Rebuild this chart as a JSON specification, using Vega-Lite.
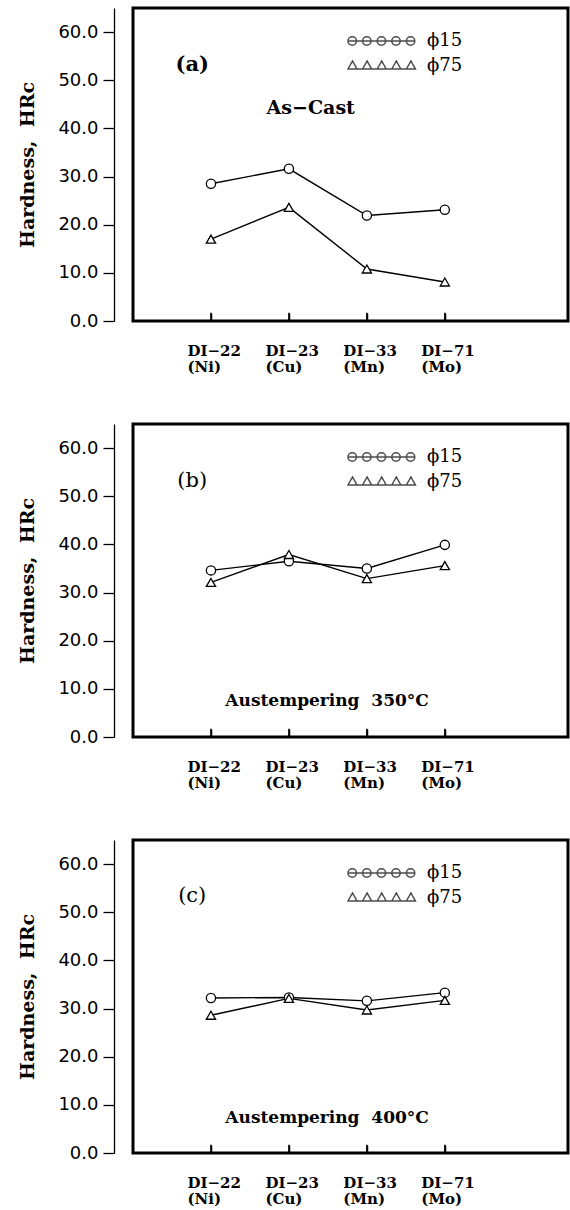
{
  "$schema": "https://vega.github.io/schema/vega-lite/v6.json",
  "padding": {"left": 17, "top": 6, "right": 0, "bottom": 0},
  "background": "white",
  "spacing": 46,
  "datasets": {
    "hrc": [
      {"panel": "a", "i": 1, "size": "ϕ15", "hrc": 28.5},
      {"panel": "a", "i": 2, "size": "ϕ15", "hrc": 31.6},
      {"panel": "a", "i": 3, "size": "ϕ15", "hrc": 21.9},
      {"panel": "a", "i": 4, "size": "ϕ15", "hrc": 23.1},
      {"panel": "a", "i": 1, "size": "ϕ75", "hrc": 17.0},
      {"panel": "a", "i": 2, "size": "ϕ75", "hrc": 23.6},
      {"panel": "a", "i": 3, "size": "ϕ75", "hrc": 10.8},
      {"panel": "a", "i": 4, "size": "ϕ75", "hrc": 8.1},
      {"panel": "b", "i": 1, "size": "ϕ15", "hrc": 34.6},
      {"panel": "b", "i": 2, "size": "ϕ15", "hrc": 36.5},
      {"panel": "b", "i": 3, "size": "ϕ15", "hrc": 35.0},
      {"panel": "b", "i": 4, "size": "ϕ15", "hrc": 39.9},
      {"panel": "b", "i": 1, "size": "ϕ75", "hrc": 32.1},
      {"panel": "b", "i": 2, "size": "ϕ75", "hrc": 37.9},
      {"panel": "b", "i": 3, "size": "ϕ75", "hrc": 32.9},
      {"panel": "b", "i": 4, "size": "ϕ75", "hrc": 35.6},
      {"panel": "c", "i": 1, "size": "ϕ15", "hrc": 32.2},
      {"panel": "c", "i": 2, "size": "ϕ15", "hrc": 32.3},
      {"panel": "c", "i": 3, "size": "ϕ15", "hrc": 31.6},
      {"panel": "c", "i": 4, "size": "ϕ15", "hrc": 33.3},
      {"panel": "c", "i": 1, "size": "ϕ75", "hrc": 28.6},
      {"panel": "c", "i": 2, "size": "ϕ75", "hrc": 32.1},
      {"panel": "c", "i": 3, "size": "ϕ75", "hrc": 29.7},
      {"panel": "c", "i": 4, "size": "ϕ75", "hrc": 31.7}
    ]
  },
  "resolve": {"scale": {"shape": "independent", "x": "independent", "y": "independent"}, "legend": {"shape": "independent"}, "axis": {"x": "independent", "y": "independent"}},
  "vconcat": [
    {
      "width": 435, "height": 313,
      "resolve": {"scale": {"shape": "independent"}},
      "layer": [
        {
          "data": {"name": "hrc"},
          "transform": [{"filter": "datum.panel === 'a'"}],
          "mark": {"type": "line", "color": "black", "strokeWidth": 1.4},
          "encoding": {
            "x": {"field": "i", "type": "quantitative", "scale": {"domain": [0, 5.58], "nice": false, "zero": false},
              "axis": {"values": [1, 2, 3, 4], "labelExpr": "[['DI−22','(Ni)'],['DI−23','(Cu)'],['DI−33','(Mn)'],['DI−71','(Mo)']][datum.value-1]", "title": null}},
            "y": {"field": "hrc", "type": "quantitative", "scale": {"domain": [0, 65], "nice": false},
              "axis": {"values": [0, 5, 10, 15, 20, 25, 30, 35, 40, 45, 50, 55, 60, 65], "labelExpr": "datum.value % 10 === 0 ? format(datum.value, '.1f') : ''", "tickSize": {"condition": {"test": "datum.value % 10 === 0", "value": 11}, "value": 6}, "title": "Hardness,\u00a0 HRc"}},
            "detail": {"field": "size"}
          }
        },
        {
          "data": {"name": "hrc"},
          "transform": [{"filter": "datum.panel === 'a' && datum.size === 'ϕ15'"}],
          "mark": {"type": "rule", "color": "black", "strokeWidth": 1.5},
          "encoding": {"x": {"field": "i", "type": "quantitative"}, "y": {"datum": 0, "type": "quantitative"}, "y2": {"datum": 1.7}}
        },
        {
          "data": {"name": "hrc"},
          "transform": [{"filter": "datum.panel === 'a'"}],
          "mark": {"type": "point", "filled": true, "fill": "white", "stroke": "black", "strokeWidth": 1.3, "size": 85, "opacity": 1},
          "encoding": {
            "x": {"field": "i", "type": "quantitative"},
            "y": {"field": "hrc", "type": "quantitative"},
            "shape": {"field": "size", "type": "nominal", "scale": {"domain": ["ϕ15", "ϕ75"], "range": ["circle", "triangle-up"]}, "legend": null}
          }
        },
        {
          "data": {"name": "hrc"},
          "transform": [{"filter": "datum.panel === 'a'"}],
          "mark": {"type": "point", "filled": false, "stroke": "black", "strokeWidth": 1.6, "size": 0},
          "encoding": {
            "x": {"field": "i", "type": "quantitative"},
            "y": {"field": "hrc", "type": "quantitative"},
            "shape": {"field": "size", "type": "nominal", "scale": {"domain": ["ϕ15", "ϕ75"], "range": ["M0,0L66.8,0M0,0A4.2,4.2 0 1,1 8.4,0A4.2,4.2 0 1,1 0,0M14.6,0A4.2,4.2 0 1,1 23,0A4.2,4.2 0 1,1 14.6,0M29.2,0A4.2,4.2 0 1,1 37.6,0A4.2,4.2 0 1,1 29.2,0M43.8,0A4.2,4.2 0 1,1 52.2,0A4.2,4.2 0 1,1 43.8,0M58.4,0A4.2,4.2 0 1,1 66.8,0A4.2,4.2 0 1,1 58.4,0", "M0,3L67.4,3M0,3L4.5,-5L9,3ZM14.6,3L19.1,-5L23.6,3ZM29.2,3L33.7,-5L38.2,3ZM43.8,3L48.3,-5L52.8,3ZM58.4,3L62.9,-5L67.4,3Z"]},
              "legend": {"orient": "none", "legendX": 206, "legendY": 24, "title": null, "padding": 0, "symbolSize": 4, "labelFont": "DejaVu Serif", "labelFontSize": 18, "labelColor": "black", "labelOffset": 70, "rowPadding": 7,
                "encode": {"symbols": {"size": {"value": 4}, "stroke": {"value": "black"}, "fill": {"value": "white"}, "strokeWidth": {"value": 1.6}, "opacity": {"value": 1}}}}}
          }
        },
        {
          "data": {"values": [{}]},
          "mark": {"type": "text", "text": "(a)", "font": "DejaVu Serif", "fontSize": 21, "fontWeight": "bold", "color": "black"},
          "encoding": {"x": {"datum": 0.76, "type": "quantitative"}, "y": {"datum": 53.1, "type": "quantitative"}}
        },
        {
          "data": {"values": [{}]},
          "mark": {"type": "text", "text": "As−Cast", "font": "DejaVu Serif", "fontSize": 19, "fontWeight": "bold", "color": "black"},
          "encoding": {"x": {"datum": 2.28, "type": "quantitative"}, "y": {"datum": 44.2, "type": "quantitative"}}
        }
      ]
    },
    {
      "width": 435, "height": 313,
      "resolve": {"scale": {"shape": "independent"}},
      "layer": [
        {
          "data": {"name": "hrc"},
          "transform": [{"filter": "datum.panel === 'b'"}],
          "mark": {"type": "line", "color": "black", "strokeWidth": 1.4},
          "encoding": {
            "x": {"field": "i", "type": "quantitative", "scale": {"domain": [0, 5.58], "nice": false, "zero": false},
              "axis": {"values": [1, 2, 3, 4], "labelExpr": "[['DI−22','(Ni)'],['DI−23','(Cu)'],['DI−33','(Mn)'],['DI−71','(Mo)']][datum.value-1]", "title": null}},
            "y": {"field": "hrc", "type": "quantitative", "scale": {"domain": [0, 65], "nice": false},
              "axis": {"values": [0, 5, 10, 15, 20, 25, 30, 35, 40, 45, 50, 55, 60, 65], "labelExpr": "datum.value % 10 === 0 ? format(datum.value, '.1f') : ''", "tickSize": {"condition": {"test": "datum.value % 10 === 0", "value": 11}, "value": 6}, "title": "Hardness,\u00a0 HRc"}},
            "detail": {"field": "size"}
          }
        },
        {
          "data": {"name": "hrc"},
          "transform": [{"filter": "datum.panel === 'b' && datum.size === 'ϕ15'"}],
          "mark": {"type": "rule", "color": "black", "strokeWidth": 1.5},
          "encoding": {"x": {"field": "i", "type": "quantitative"}, "y": {"datum": 0, "type": "quantitative"}, "y2": {"datum": 1.7}}
        },
        {
          "data": {"name": "hrc"},
          "transform": [{"filter": "datum.panel === 'b'"}],
          "mark": {"type": "point", "filled": true, "fill": "white", "stroke": "black", "strokeWidth": 1.3, "size": 85, "opacity": 1},
          "encoding": {
            "x": {"field": "i", "type": "quantitative"},
            "y": {"field": "hrc", "type": "quantitative"},
            "shape": {"field": "size", "type": "nominal", "scale": {"domain": ["ϕ15", "ϕ75"], "range": ["circle", "triangle-up"]}, "legend": null}
          }
        },
        {
          "data": {"name": "hrc"},
          "transform": [{"filter": "datum.panel === 'b'"}],
          "mark": {"type": "point", "filled": false, "stroke": "black", "strokeWidth": 1.6, "size": 0},
          "encoding": {
            "x": {"field": "i", "type": "quantitative"},
            "y": {"field": "hrc", "type": "quantitative"},
            "shape": {"field": "size", "type": "nominal", "scale": {"domain": ["ϕ15", "ϕ75"], "range": ["M0,0L66.8,0M0,0A4.2,4.2 0 1,1 8.4,0A4.2,4.2 0 1,1 0,0M14.6,0A4.2,4.2 0 1,1 23,0A4.2,4.2 0 1,1 14.6,0M29.2,0A4.2,4.2 0 1,1 37.6,0A4.2,4.2 0 1,1 29.2,0M43.8,0A4.2,4.2 0 1,1 52.2,0A4.2,4.2 0 1,1 43.8,0M58.4,0A4.2,4.2 0 1,1 66.8,0A4.2,4.2 0 1,1 58.4,0", "M0,3L67.4,3M0,3L4.5,-5L9,3ZM14.6,3L19.1,-5L23.6,3ZM29.2,3L33.7,-5L38.2,3ZM43.8,3L48.3,-5L52.8,3ZM58.4,3L62.9,-5L67.4,3Z"]},
              "legend": {"orient": "none", "legendX": 206, "legendY": 24, "title": null, "padding": 0, "symbolSize": 4, "labelFont": "DejaVu Serif", "labelFontSize": 18, "labelColor": "black", "labelOffset": 70, "rowPadding": 7,
                "encode": {"symbols": {"size": {"value": 4}, "stroke": {"value": "black"}, "fill": {"value": "white"}, "strokeWidth": {"value": 1.6}, "opacity": {"value": 1}}}}}
          }
        },
        {
          "data": {"values": [{}]},
          "mark": {"type": "text", "text": "(b)", "font": "DejaVu Serif", "fontSize": 21, "color": "black"},
          "encoding": {"x": {"datum": 0.76, "type": "quantitative"}, "y": {"datum": 53.1, "type": "quantitative"}}
        },
        {
          "data": {"values": [{}]},
          "mark": {"type": "text", "text": "Austempering\u00a0 350°C", "font": "DejaVu Serif", "fontSize": 17, "fontWeight": "bold", "color": "black"},
          "encoding": {"x": {"datum": 2.49, "type": "quantitative"}, "y": {"datum": 7.5, "type": "quantitative"}}
        }
      ]
    },
    {
      "width": 435, "height": 313,
      "resolve": {"scale": {"shape": "independent"}},
      "layer": [
        {
          "data": {"name": "hrc"},
          "transform": [{"filter": "datum.panel === 'c'"}],
          "mark": {"type": "line", "color": "black", "strokeWidth": 1.4},
          "encoding": {
            "x": {"field": "i", "type": "quantitative", "scale": {"domain": [0, 5.58], "nice": false, "zero": false},
              "axis": {"values": [1, 2, 3, 4], "labelExpr": "[['DI−22','(Ni)'],['DI−23','(Cu)'],['DI−33','(Mn)'],['DI−71','(Mo)']][datum.value-1]", "title": null}},
            "y": {"field": "hrc", "type": "quantitative", "scale": {"domain": [0, 65], "nice": false},
              "axis": {"values": [0, 5, 10, 15, 20, 25, 30, 35, 40, 45, 50, 55, 60, 65], "labelExpr": "datum.value % 10 === 0 ? format(datum.value, '.1f') : ''", "tickSize": {"condition": {"test": "datum.value % 10 === 0", "value": 11}, "value": 6}, "title": "Hardness,\u00a0 HRc"}},
            "detail": {"field": "size"}
          }
        },
        {
          "data": {"name": "hrc"},
          "transform": [{"filter": "datum.panel === 'c' && datum.size === 'ϕ15'"}],
          "mark": {"type": "rule", "color": "black", "strokeWidth": 1.5},
          "encoding": {"x": {"field": "i", "type": "quantitative"}, "y": {"datum": 0, "type": "quantitative"}, "y2": {"datum": 1.7}}
        },
        {
          "data": {"name": "hrc"},
          "transform": [{"filter": "datum.panel === 'c'"}],
          "mark": {"type": "point", "filled": true, "fill": "white", "stroke": "black", "strokeWidth": 1.3, "size": 85, "opacity": 1},
          "encoding": {
            "x": {"field": "i", "type": "quantitative"},
            "y": {"field": "hrc", "type": "quantitative"},
            "shape": {"field": "size", "type": "nominal", "scale": {"domain": ["ϕ15", "ϕ75"], "range": ["circle", "triangle-up"]}, "legend": null}
          }
        },
        {
          "data": {"name": "hrc"},
          "transform": [{"filter": "datum.panel === 'c'"}],
          "mark": {"type": "point", "filled": false, "stroke": "black", "strokeWidth": 1.6, "size": 0},
          "encoding": {
            "x": {"field": "i", "type": "quantitative"},
            "y": {"field": "hrc", "type": "quantitative"},
            "shape": {"field": "size", "type": "nominal", "scale": {"domain": ["ϕ15", "ϕ75"], "range": ["M0,0L66.8,0M0,0A4.2,4.2 0 1,1 8.4,0A4.2,4.2 0 1,1 0,0M14.6,0A4.2,4.2 0 1,1 23,0A4.2,4.2 0 1,1 14.6,0M29.2,0A4.2,4.2 0 1,1 37.6,0A4.2,4.2 0 1,1 29.2,0M43.8,0A4.2,4.2 0 1,1 52.2,0A4.2,4.2 0 1,1 43.8,0M58.4,0A4.2,4.2 0 1,1 66.8,0A4.2,4.2 0 1,1 58.4,0", "M0,3L67.4,3M0,3L4.5,-5L9,3ZM14.6,3L19.1,-5L23.6,3ZM29.2,3L33.7,-5L38.2,3ZM43.8,3L48.3,-5L52.8,3ZM58.4,3L62.9,-5L67.4,3Z"]},
              "legend": {"orient": "none", "legendX": 206, "legendY": 24, "title": null, "padding": 0, "symbolSize": 4, "labelFont": "DejaVu Serif", "labelFontSize": 18, "labelColor": "black", "labelOffset": 70, "rowPadding": 7,
                "encode": {"symbols": {"size": {"value": 4}, "stroke": {"value": "black"}, "fill": {"value": "white"}, "strokeWidth": {"value": 1.6}, "opacity": {"value": 1}}}}}
          }
        },
        {
          "data": {"values": [{}]},
          "mark": {"type": "text", "text": "(c)", "font": "DejaVu Serif", "fontSize": 21, "color": "black"},
          "encoding": {"x": {"datum": 0.76, "type": "quantitative"}, "y": {"datum": 53.3, "type": "quantitative"}}
        },
        {
          "data": {"values": [{}]},
          "mark": {"type": "text", "text": "Austempering\u00a0 400°C", "font": "DejaVu Serif", "fontSize": 17, "fontWeight": "bold", "color": "black"},
          "encoding": {"x": {"datum": 2.49, "type": "quantitative"}, "y": {"datum": 7.3, "type": "quantitative"}}
        }
      ]
    }
  ],
  "config": {
    "view": {"stroke": "black", "strokeWidth": 3},
    "axisX": {"domain": false, "grid": false, "tickSize": -8, "tickColor": "black", "tickWidth": 1.5, "labelAlign": "left", "labelBaseline": "top", "labelOffset": -24, "labelPadding": 30, "labelFont": "DejaVu Serif", "labelFontWeight": "bold", "labelFontSize": 15, "labelLineHeight": 16, "labelColor": "black", "labelOverlap": false, "labelFlush": false},
    "axisY": {"offset": 19, "domain": true, "domainColor": "black", "domainWidth": 1.3, "grid": false, "tickColor": "black", "tickWidth": 1.3, "labelFont": "DejaVu Sans", "labelFontSize": 18, "labelColor": "black", "labelPadding": 5, "labelOverlap": false, "labelFlush": false, "titleFont": "DejaVu Serif", "titleFontWeight": "bold", "titleFontSize": 19, "titleColor": "black", "titlePadding": 20}
  }
}
